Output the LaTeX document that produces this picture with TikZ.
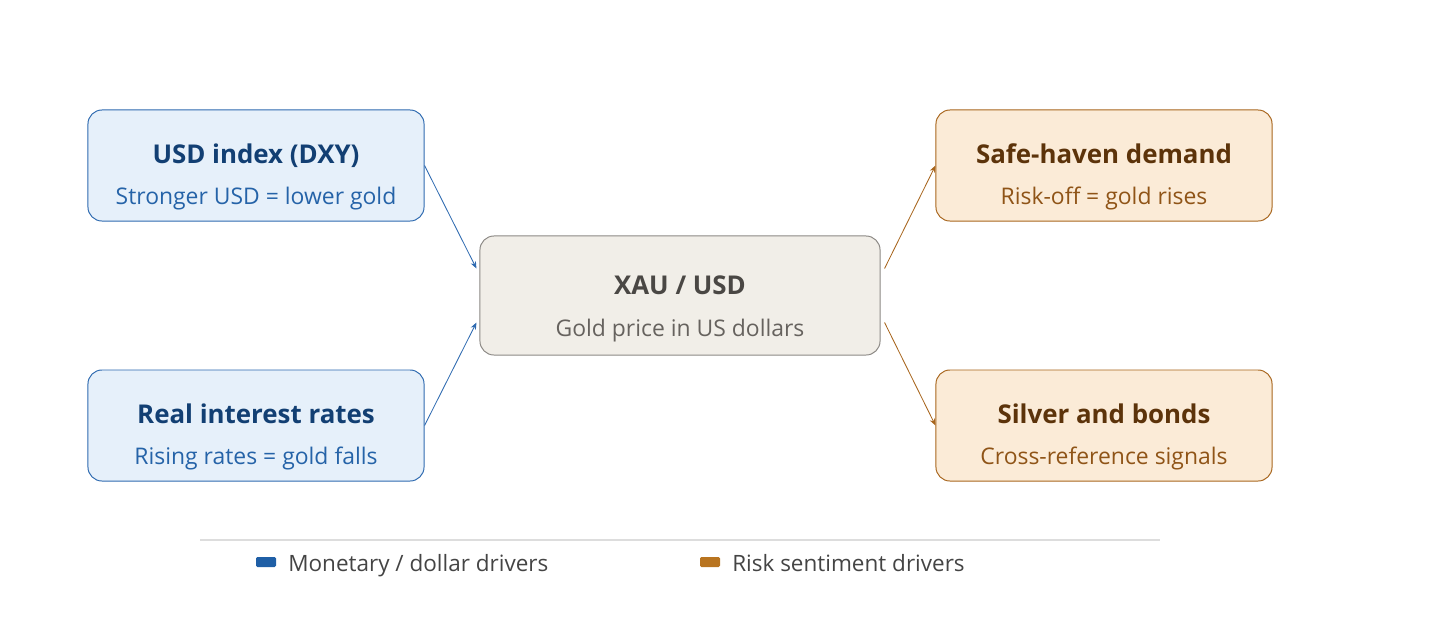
\documentclass[tikz,border=0pt]{standalone}
\usepackage{fontspec}
\setmainfont{Open Sans}
\usetikzlibrary{arrows.meta, positioning, calc}

\definecolor{blueLine}{HTML}{2E6AB0}
\definecolor{blueFill}{HTML}{E6F0FA}
\definecolor{blueTitle}{HTML}{123F73}
\definecolor{blueSub}{HTML}{2563A8}
\definecolor{orangeLine}{HTML}{A8661E}
\definecolor{orangeFill}{HTML}{FBEBD7}
\definecolor{orangeTitle}{HTML}{5C330A}
\definecolor{orangeSub}{HTML}{8F5417}
\definecolor{grayLine}{HTML}{8C8985}
\definecolor{grayFill}{HTML}{F1EEE8}
\definecolor{grayTitle}{HTML}{4A4744}
\definecolor{graySub}{HTML}{66625E}
\definecolor{legendBlue}{HTML}{1F5FA6}
\definecolor{legendOrange}{HTML}{B87420}
\definecolor{ruleGray}{HTML}{DDDDDD}
\definecolor{legendText}{HTML}{444444}

\tikzset{
  driver/.style={rectangle, rounded corners=0.35cm, line width=0.7pt,
                 minimum width=8.4cm, minimum height=2.775cm, inner sep=0pt},
  driverB/.style={driver, draw=blueLine, fill=blueFill},
  driverO/.style={driver, draw=orangeLine, fill=orangeFill},
  core/.style={rectangle, rounded corners=0.35cm, line width=0.7pt,
               draw=grayLine, fill=grayFill,
               minimum width=10cm, minimum height=2.975cm, inner sep=0pt},
  ttl/.style={anchor=base, inner sep=0pt, font=\fontsize{18.4}{22}\selectfont\bfseries},
  sub/.style={anchor=base, inner sep=0pt, font=\fontsize{16.3}{19}\selectfont},
  linkB/.style={-{Stealth[length=5pt, width=4pt]}, line width=0.6pt, draw=blueLine},
  linkO/.style={-{Stealth[length=5pt, width=4pt]}, line width=0.6pt, draw=orangeLine},
  swatch/.style={rectangle, rounded corners=1pt, minimum width=0.5cm,
                 minimum height=0.25cm, inner sep=0pt},
  legend/.style={anchor=base west, inner sep=0pt, text=legendText,
                 font=\fontsize{16}{19}\selectfont},
}

\begin{document}
\begin{tikzpicture}[x=0.025cm, y=-0.025cm]
  \useasboundingbox (0,0) rectangle (1440,620);

  % boxes
  \node[core]    (xau)    at (680,295.5)  {};
  \node[driverB] (usd)    at (256,165.5)  {};
  \node[driverB] (rates)  at (256,425.5)  {};
  \node[driverO] (haven)  at (1104,165.5) {};
  \node[driverO] (silver) at (1104,425.5) {};

  % texts
  \node[ttl, text=grayTitle] (xauT) at (680,294) {XAU / USD};
  \node[sub, text=graySub]   (xauS) at (680,336) {Gold price in US dollars};
  \node[ttl, text=blueTitle] (usdT) at (256,163) {USD index (DXY)};
  \node[sub, text=blueSub]   (usdS) at (256,204) {Stronger USD = lower gold};
  \node[ttl, text=blueTitle] (ratesT) at (256,423) {Real interest rates};
  \node[sub, text=blueSub]   (ratesS) at (256,464) {Rising rates = gold falls};
  \node[ttl, text=orangeTitle] (havenT) at (1104,163) {Safe-haven demand};
  \node[sub, text=orangeSub]   (havenS) at (1104,204) {Risk-off = gold rises};
  \node[ttl, text=orangeTitle] (silverT) at (1104,423) {Silver and bonds};
  \node[sub, text=orangeSub]   (silverS) at (1104,464) {Cross-reference signals};

  % links
  \draw[linkB] (usd.east)   -- ($(xau.west)+(-3,-27)$);
  \draw[linkB] (rates.east) -- ($(xau.west)+(-3,27)$);
  \draw[linkO] ($(xau.east)+(4,-27)$) -- (haven.west);
  \draw[linkO] ($(xau.east)+(4,27)$)  -- (silver.west);

  % legend
  \coordinate (ruleL) at (200,540);
  \coordinate (ruleR) at (1160,540);
  \draw[ruleGray, line width=1pt] (ruleL) -- (ruleR);
  \node[swatch, fill=legendBlue]   (swB) at (266,562) {};
  \node[legend] (legB) at (288,571) {Monetary / dollar drivers};
  \node[swatch, fill=legendOrange] (swO) at (710,562) {};
  \node[legend] (legO) at (732,571) {Risk sentiment drivers};

\end{tikzpicture}
\end{document}
